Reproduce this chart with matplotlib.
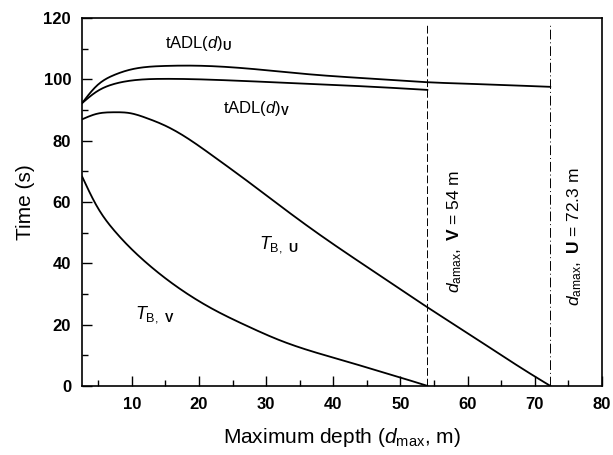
import numpy as np
import matplotlib
matplotlib.use('Agg')
import matplotlib.pyplot as plt
from matplotlib.ticker import MultipleLocator

plt.rcParams['font.family'] = ['Liberation Sans', 'DejaVu Sans']
plt.rcParams['mathtext.fontset'] = 'custom'
plt.rcParams['mathtext.rm'] = 'Liberation Sans'
plt.rcParams['mathtext.it'] = 'Liberation Sans:italic'
plt.rcParams['mathtext.bf'] = 'Liberation Sans:bold'

# tADL(d)_U
x_adl_u = [2.6, 4.8, 7.3, 9.75, 14.7, 19.6, 27.1, 36.9, 46.8, 54, 60, 72.3]
y_adl_u = [92.3, 98.0, 101.4, 103.2, 104.4, 104.5, 103.6, 101.6, 100.1, 99.1, 98.6, 97.6]
# tADL(d)_V
x_adl_v = [2.6, 4.8, 7.3, 9.75, 14.7, 22.1, 32, 46.8, 54]
y_adl_v = [92.3, 96.1, 98.5, 99.6, 100.2, 99.9, 99.0, 97.5, 96.6]
# T_B,U
x_tb_u = [2.6, 4.8, 7.3, 9.75, 12.2, 14.7, 17.2, 22.1, 27.1, 32, 36.9, 41.9, 46.8, 53.9, 59.7, 64.6, 69.6, 72.3]
y_tb_u = [87.0, 88.8, 89.3, 89.0, 87.4, 85.2, 82.3, 75.0, 67.0, 58.9, 51.0, 43.4, 36.2, 25.8, 17.6, 10.6, 3.6, 0.0]
# T_B,V
x_tb_v = [2.6, 4.8, 7.3, 12.2, 17.2, 22.1, 27.1, 32, 36.9, 41.9, 46.8, 50, 54]
y_tb_v = [68.3, 58.6, 50.9, 40.1, 31.6, 25.0, 19.6, 14.9, 11.2, 8.0, 4.8, 2.7, 0.0]

d_amax_v = 54
d_amax_u = 72.3


def spline(xs, ys, n=300):
  # natural cubic spline through the read points
  xs = np.asarray(xs, float)
  ys = np.asarray(ys, float)
  N = len(xs)
  h = np.diff(xs)
  A = np.zeros((N, N))
  b = np.zeros(N)
  A[0, 0] = 1
  A[-1, -1] = 1
  for i in range(1, N - 1):
    A[i, i - 1] = h[i - 1]
    A[i, i] = 2 * (h[i - 1] + h[i])
    A[i, i + 1] = h[i]
    b[i] = 6 * ((ys[i + 1] - ys[i]) / h[i] - (ys[i] - ys[i - 1]) / h[i - 1])
  M = np.linalg.solve(A, b)
  xx = np.linspace(xs[0], xs[-1], n)
  k = np.clip(np.searchsorted(xs, xx) - 1, 0, N - 2)
  a = xs[k + 1] - xx
  c = xx - xs[k]
  hk = h[k]
  yy = (M[k] * a**3 / (6 * hk) + M[k + 1] * c**3 / (6 * hk)
        + (ys[k] / hk - M[k] * hk / 6) * a + (ys[k + 1] / hk - M[k + 1] * hk / 6) * c)
  return xx, yy


fig = plt.figure(figsize=(6.13, 4.55), dpi=100)
ax = fig.add_axes([0.134, 0.152, 0.848, 0.808])

for xs, ys in [(x_adl_u, y_adl_u), (x_adl_v, y_adl_v), (x_tb_u, y_tb_u), (x_tb_v, y_tb_v)]:
  xx, yy = spline(xs, ys)
  ax.plot(xx, yy, color='black', linewidth=1.3)

ax.plot([d_amax_v, d_amax_v], [0, 118.4], color='black', linewidth=0.7, linestyle=(0, (8, 3)))
ax.plot([d_amax_u, d_amax_u], [0, 118.4], color='black', linewidth=0.7, linestyle=(0, (10, 3, 1, 3)))

ax.text(14.9, 111.8, r'tADL($\mathit{d}$)$_\mathbf{U}$', fontsize=12, va='center')
ax.text(23.6, 90.6, r'tADL($\mathit{d}$)$_\mathbf{V}$', fontsize=12, va='center')
ax.text(29.0, 46.0, r'$\mathit{T}_\mathrm{B,\ }$$_\mathbf{U}$', fontsize=13, va='center')
ax.text(10.5, 23.3, r'$\mathit{T}_\mathrm{B,\ }$$_\mathbf{V}$', fontsize=13, va='center')
ax.text(58.0, 50.5, r'$\mathit{d}_\mathrm{amax},$ $\mathbf{V}$ = 54 m', fontsize=12.5,
        rotation=90, ha='center', va='center')
ax.text(76.0, 48.6, r'$\mathit{d}_\mathrm{amax},$ $\mathbf{U}$ = 72.3 m', fontsize=12.5,
        rotation=90, ha='center', va='center')

ax.set_xlim(2.6, 80)
ax.set_ylim(0, 120)
ax.xaxis.set_major_locator(MultipleLocator(10))
ax.xaxis.set_minor_locator(MultipleLocator(5))
ax.yaxis.set_major_locator(MultipleLocator(20))
ax.yaxis.set_minor_locator(MultipleLocator(10))
ax.tick_params(which='both', direction='in', top=False, right=False)
ax.tick_params(which='major', length=7, width=1, labelsize=12, pad=8)
ax.tick_params(which='minor', length=4, width=1)
for lab in ax.get_xticklabels() + ax.get_yticklabels():
  lab.set_fontweight('bold')
for sp in ax.spines.values():
  sp.set_linewidth(1.2)

ax.set_xlabel(r'Maximum depth ($\mathit{d}_\mathrm{max}$, m)', fontsize=15, labelpad=10)
ax.set_ylabel('Time (s)', fontsize=15, labelpad=6)

fig.savefig('out.png', dpi=100)
